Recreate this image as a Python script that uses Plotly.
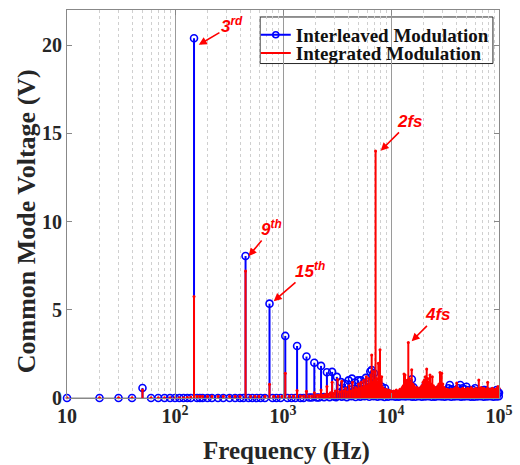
import math
import plotly.graph_objects as go

# ---------------- data ----------------
# Interleaved Modulation (blue stems with circle markers)
blue_f = [10, 20, 30, 40, 50, 60, 70, 80, 90, 100, 110, 120, 130, 140, 150,
          160, 170, 180, 200, 220, 250, 280, 320, 360, 400, 430, 450, 480, 520,
          570, 620, 680, 750, 800, 870, 950, 1050, 1100, 1200, 1300, 1350, 1450,
          1550, 1650, 1750, 1850, 1950, 2050, 2150, 2250, 2400, 2550, 2700, 2850,
          3000, 3150, 3300, 3450, 3600, 3750, 3900, 4050, 4200, 4350, 4500, 4650,
          4800, 4950, 5100, 5250, 5400, 5550, 5700, 5850, 6000, 6200, 6430, 6620,
          6960, 7200, 7400, 7600, 7900, 8200, 8500, 8800, 9200, 9600, 10000,
          10500, 11000, 11500, 12000, 12500, 13000, 13500, 14000, 14500, 15000,
          15600, 16200, 16800, 17500, 18200, 19000, 19800, 20900, 22000, 23000,
          24000, 25000, 26000, 27000, 28000, 29500, 31000, 32500, 34000, 35000,
          36500, 38000, 40000, 42000, 43800, 46000, 48000, 50000, 52500, 55000,
          57500, 60000, 63000, 66000, 69000, 72000, 74000, 77000, 80000, 83000,
          86000, 89000, 92000, 95000, 98000, 100000]
blue_v = [0.0, 0.0, 0.0, 0.0, 0.57, 0.0, 0.0, 0.0, 0.0, 0.0, 0.0, 0.0, 0.0, 0.0, 20.4,
          0.0, 0.0, 0.0, 0.0, 0.0, 0.0, 0.0, 0.0, 0.0, 0.0, 0.0, 8.05, 0.0, 0.0,
          0.0, 0.0, 0.0, 5.35, 0.0, 0.0, 0.0, 3.52, 0.0, 0.0, 0.0, 2.95, 0.0,
          0.0, 2.35, 0.03, 0.03, 2.0, 0.03, 0.03, 1.82, 0.05, 1.46, 0.05, 1.48,
          0.08, 1.2, 0.3, 0.9, 0.45, 0.8, 0.4, 1.0, 0.45, 1.1, 0.4, 0.88,
          0.45, 1.0, 0.4, 1.0, 0.5, 0.7, 0.45, 1.14, 0.5, 0.6, 1.5, 1.59,
          1.4, 0.9, 0.5, 0.87, 0.4, 0.64, 0.4, 0.55, 0.3, 0.25, 0.2,
          0.2, 0.15, 0.2, 0.2, 0.25, 0.3, 0.5, 0.6, 0.83, 0.7,
          1.06, 0.6, 0.4, 0.3, 0.35, 0.4, 0.5, 0.74, 0.5, 0.4,
          0.35, 0.3, 0.3, 0.45, 0.35, 0.3, 0.3, 0.4, 0.55, 0.74,
          0.5, 0.4, 0.45, 0.55, 0.74, 0.55, 0.5, 0.64, 0.45, 0.4,
          0.45, 0.55, 0.4, 0.35, 0.4, 0.45, 0.45, 0.35, 0.3, 0.35,
          0.3, 0.35, 0.3, 0.45, 0.3, 0.3]
# blue floor points (spectral bins near zero, high-frequency region)
blue_floor_f = [3100, 3500, 3900, 4300, 4700, 5200, 5700, 6300, 6900, 7500, 8100,
                8700, 9400, 10200, 11000, 11800, 12700, 13600, 14600, 15700, 16800,
                18000, 19300, 20700, 22200, 23800, 25500, 27300, 29300, 31400, 33700,
                36100, 38700, 41500, 44500, 47700, 51100, 54800, 58700, 62900, 67400,
                72200, 77400, 82900, 88800, 95100, 99500]
blue_floor_v = [0.05, 0.08, 0.05, 0.1, 0.06, 0.08, 0.1, 0.07, 0.1, 0.08, 0.1,
                0.06, 0.08, 0.1, 0.07, 0.08, 0.1, 0.09, 0.1, 0.08, 0.07,
                0.1, 0.08, 0.09, 0.1, 0.07, 0.08, 0.1, 0.09, 0.08, 0.1,
                0.07, 0.09, 0.1, 0.08, 0.09, 0.1, 0.08, 0.07, 0.09, 0.1,
                0.08, 0.09, 0.1, 0.08, 0.09, 0.1]

# Integrated Modulation (red stems)
red_f = [10, 20, 30, 40, 50, 60, 70, 80, 90, 100, 110, 120, 130, 140, 150, 160, 170,
         180, 200, 220, 250, 280, 320, 360, 400, 450, 500, 550, 600, 680, 750, 820,
         900, 980, 1050, 1150, 1250, 1350, 1450, 1550, 1650, 1750, 1850, 1950, 2050,
         2150, 2250, 2350, 2450, 2550, 2650, 2750, 2850, 2950, 3050, 3200, 3350, 3500,
         3650, 3800, 3950, 4100, 4250, 4400, 4550, 4700, 4850, 5000, 5150, 5300, 5450,
         5600, 5750, 5900, 6050, 6200, 6350, 6500, 6625, 6750, 6900, 7050, 7200, 7350,
         7500, 7630, 7780, 7910, 8050, 8200, 8400, 8600, 8800, 9000, 9250, 9500, 9750,
         10000, 10300, 10600, 10900, 11200, 11500, 11800, 12100, 12400, 12700, 13000,
         13190, 13480, 13800, 14100, 14460, 14800, 15150, 15550, 15900, 16300, 16700,
         17100, 17500, 17900, 18300, 18800, 19300, 19800, 20300, 20800, 21410, 21900,
         22400, 22960, 23500, 24130, 24700, 25300, 25900, 26500, 27200, 27800, 28420,
         29460, 30200, 31000, 31800, 32600, 33400, 34300, 35200, 36100, 37000, 38000,
         39000, 40000, 40570, 41600, 42700, 43800, 45000, 46200, 47400, 48600, 49900,
         51200, 52500, 53900, 55300, 56700, 58200, 59700, 61300, 62900, 65000, 66800,
         68500, 70300, 72100, 74000, 76000, 78000, 78560, 80100, 82200, 84400, 86600,
         88900, 91200, 93600, 96000, 97900, 99000, 100000]
red_v = [0.02, 0.02, 0.02, 0.02, 0.45, 0.02, 0.02, 0.02, 0.02, 0.02, 0.02, 0.02, 0.03, 0.05, 5.75, 0.1, 0.1,
         0.1, 0.1, 0.1, 0.1, 0.1, 0.1, 0.1, 0.1, 7.2, 0.1, 0.1, 0.1, 0.1, 0.78, 0.1,
         0.1, 0.1, 1.4, 0.12, 0.12, 0.42, 0.12, 0.12, 0.38, 0.12, 0.12, 0.3, 0.15,
         0.15, 0.45, 0.15, 0.2, 0.65, 0.2, 0.3, 0.9, 0.25, 0.4, 1.05, 0.35, 0.95,
         0.4, 0.55, 0.35, 0.7, 0.4, 0.9, 0.45, 0.6, 0.5, 0.8, 0.55, 0.9, 0.6,
         1.0, 0.65, 1.2, 0.7, 1.1, 0.8, 1.3, 2.44, 0.9, 1.5, 1.0, 14.0, 1.1,
         0.9, 1.97, 0.8, 2.73, 0.7, 1.2, 0.6, 0.5, 0.45, 0.5, 0.4, 0.45, 0.35,
         0.4, 0.35, 0.4, 0.3, 0.45, 0.35, 0.4, 0.5, 0.45, 0.6, 0.7,
         1.36, 1.3, 0.9, 1.0, 3.14, 1.1, 0.9, 1.6, 0.8, 0.7, 0.6,
         0.5, 0.6, 0.45, 0.5, 0.6, 0.7, 0.9, 1.0, 1.2, 1.65, 1.1,
         0.9, 1.3, 0.8, 1.2, 0.7, 0.6, 0.5, 0.6, 0.7, 0.8, 1.44,
         1.4, 0.8, 0.6, 0.5, 0.45, 0.5, 0.4, 0.45, 0.5, 0.45, 0.5,
         0.55, 0.6, 0.85, 0.55, 0.5, 0.45, 0.5, 0.55, 0.5, 0.45, 0.5,
         0.55, 0.45, 0.5, 0.6, 0.5, 0.45, 0.5, 0.55, 0.5, 1.02, 0.55,
         0.6, 0.5, 0.55, 0.5, 0.45, 0.55, 0.9, 0.5, 0.45, 0.5, 0.55,
         0.5, 0.45, 0.5, 0.55, 0.65, 0.5, 0.55]

tick_vals = [10, 100, 1000, 10000, 100000]
tick_text = ["10", "10<sup>2</sup>", "10<sup>3</sup>", "10<sup>4</sup>", "10<sup>5</sup>"]
y_ticks = [0, 5, 10, 15, 20]

# annotations: label, arrow-head frequency (Hz) and voltage, text offset in px
ann_text = ["3<sup>rd</sup>", "9<sup>th</sup>", "15<sup>th</sup>", "2fs", "4fs"]
ann_f = [163, 474, 807, 7910, 15300]
ann_v = [20.0, 8.0, 5.45, 13.98, 3.18]
ann_ax = [34, 24, 37, 30, 27]
ann_ay = [-20, -29, -32, -30, -27]

BLUE = "#0000ff"
RED = "#ff0000"


def stems(fs, vs):
    xs, ys = [], []
    for f, v in zip(fs, vs):
        xs += [f, f, None]
        ys += [0, v, None]
    return xs, ys


fig = go.Figure()

# baseline
fig.add_trace(go.Scatter(x=[tick_vals[0], tick_vals[-1]], y=[0, 0], mode="lines",
                         line=dict(color="#888888", width=1), showlegend=False,
                         hoverinfo="skip"))

bx, by = stems(blue_f, blue_v)
fig.add_trace(go.Scatter(x=bx, y=by, mode="lines", line=dict(color=BLUE, width=2),
                         showlegend=False, hoverinfo="skip", cliponaxis=False))
fig.add_trace(go.Scatter(x=blue_f + blue_floor_f, y=blue_v + blue_floor_v, mode="markers",
                         marker=dict(symbol="circle-open", size=7, color=BLUE,
                                     line=dict(width=1.6, color=BLUE)),
                         showlegend=False, cliponaxis=False))

rx, ry = stems(red_f, red_v)
fig.add_trace(go.Scatter(x=rx, y=ry, mode="lines", line=dict(color=RED, width=2),
                         showlegend=False, hoverinfo="skip", cliponaxis=False))
fig.add_trace(go.Scatter(x=red_f, y=red_v, mode="markers",
                         marker=dict(symbol="circle", size=3, color=RED),
                         showlegend=False, cliponaxis=False))

# legend entries (one per legend box so the row spacing can match)
fig.add_trace(go.Scatter(x=[None], y=[None], mode="lines+markers", name="Interleaved Modulation",
                         line=dict(color=BLUE, width=2), legend="legend",
                         marker=dict(symbol="circle-open", size=6, color=BLUE,
                                     line=dict(width=1.6, color=BLUE))))
fig.add_trace(go.Scatter(x=[None], y=[None], mode="lines", name="Integrated Modulation",
                         line=dict(color=RED, width=2), legend="legend2"))

for t, f, v, ax, ay in zip(ann_text, ann_f, ann_v, ann_ax, ann_ay):
    fig.add_annotation(x=math.log10(f), y=v, xref="x", yref="y", text=t, showarrow=True,
                       ax=ax, ay=ay, arrowhead=2, arrowsize=1, arrowwidth=1.6,
                       arrowcolor=RED, standoff=1,
                       font=dict(family="Liberation Sans, Arial", size=17, color=RED,
                                 weight="bold", style="italic"))

serif = "Liberation Serif, Times New Roman, serif"

# axis titles placed as annotations
fig.add_annotation(text="Common Mode Voltage (V)", xref="paper", yref="paper",
                   x=-0.093, y=0.455, textangle=-90, showarrow=False,
                   xanchor="center", yanchor="middle",
                   font=dict(family=serif, size=26, color="#262626", weight="bold"))
fig.add_annotation(text="Frequency (Hz)", xref="paper", yref="paper",
                   x=0.509, y=-0.137, showarrow=False,
                   xanchor="center", yanchor="middle",
                   font=dict(family=serif, size=25, color="#262626", weight="bold"))

# legend frame
fig.add_shape(type="rect", xref="paper", yref="paper", x0=0.447, x1=0.986,
              y0=0.862, y1=0.982, line=dict(color="#262626", width=1),
              fillcolor="white", layer="below")

leg_font = dict(family=serif, size=19, color="#111111", weight="bold")
fig.update_layout(
    width=520, height=465,
    margin=dict(l=67, r=21, t=10, b=67, autoexpand=False),
    paper_bgcolor="white", plot_bgcolor="rgba(0,0,0,0)",
    font=dict(family=serif, size=20, color="#262626", weight="bold"),
    showlegend=True,
    legend=dict(x=0.437, y=0.936, xanchor="left", yanchor="middle",
                bgcolor="rgba(0,0,0,0)", borderwidth=0, font=leg_font, itemwidth=30,
                tracegroupgap=0),
    legend2=dict(x=0.437, y=0.889, xanchor="left", yanchor="middle",
                 bgcolor="rgba(0,0,0,0)", borderwidth=0, font=leg_font, itemwidth=30,
                 tracegroupgap=0),
    xaxis=dict(type="log", range=[1, 5], tickmode="array", tickvals=tick_vals,
               ticktext=tick_text, showgrid=True, gridcolor="#9a9a9a", gridwidth=1,
               showline=True, linecolor="#888888", linewidth=1, mirror="ticks",
               ticks="inside", ticklen=5, tickcolor="#888888",
               zeroline=False, automargin=False,
               tickfont=dict(family=serif, size=20, color="#262626", weight="bold"),
               minor=dict(dtick="D1", showgrid=True, gridcolor="#cfcfcf",
                          griddash="dot", gridwidth=1, ticks="")),
    yaxis=dict(range=[0, 22], tickvals=y_ticks, showgrid=False,
               showline=True, linecolor="#888888", linewidth=1, mirror="ticks",
               ticks="inside", ticklen=5, tickcolor="#888888", zeroline=False,
               automargin=False,
               tickfont=dict(family=serif, size=20, color="#262626", weight="bold")),
)

fig.write_html("out.html", config={"displayModeBar": False},
               post_script="document.body.style.margin='0';")
